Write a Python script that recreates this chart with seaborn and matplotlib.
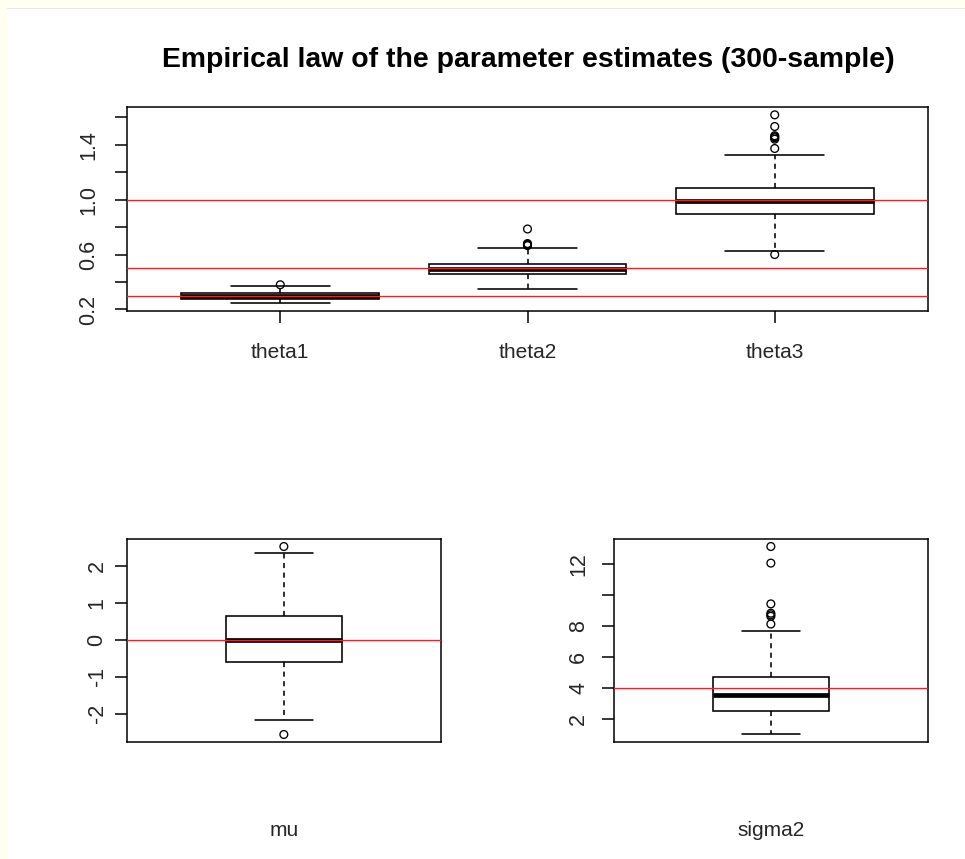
import numpy as np
import pandas as pd
import matplotlib
matplotlib.use("Agg")
import matplotlib.pyplot as plt
import seaborn as sns
from matplotlib.patches import Rectangle
from matplotlib.lines import Line2D

# Five-number summaries (lower whisker, Q1, median, Q3, upper whisker)
theta_names = ["theta1", "theta2", "theta3"]
theta_true = [0.3, 0.5, 1.0]
theta_whisker_low = [0.244, 0.348, 0.627]
theta_q1 = [0.280, 0.459, 0.898]
theta_median = [0.300, 0.497, 0.987]
theta_q3 = [0.321, 0.534, 1.082]
theta_whisker_high = [0.372, 0.645, 1.326]
theta1_outliers = [0.380]
theta2_outliers = [0.665, 0.670, 0.675, 0.680, 0.786]
theta3_outliers = [0.600, 1.372, 1.440, 1.450, 1.458, 1.465, 1.532, 1.617]

mu_name = "mu"
mu_true = 0.0
mu_summary = [-2.18, -0.59, 0.0, 0.654, 2.35]
mu_outliers = [-2.56, 2.53]

sigma2_name = "sigma2"
sigma2_true = 4.0
sigma2_summary = [0.98, 2.52, 3.53, 4.69, 7.67]
sigma2_outliers = [8.10, 8.60, 8.70, 8.80, 9.40, 12.03, 13.10]

theta_yticks = [0.2, 0.4, 0.6, 0.8, 1.0, 1.2, 1.4, 1.6]
theta_yticklabels = ["0.2", "", "0.6", "", "1.0", "", "1.4", ""]
mu_yticks = [-2, -1, 0, 1, 2]
mu_yticklabels = ["-2", "-1", "0", "1", "2"]
sigma2_yticks = [2, 4, 6, 8, 10, 12]
sigma2_yticklabels = ["2", "4", "6", "8", "", "12"]

title = "Empirical law of the parameter estimates (300-sample)"

sns.set_theme(style="ticks")
plt.rcParams["font.family"] = ["Liberation Sans", "DejaVu Sans"]

TEXT = "#262626"
RED = "#e4262b"


def long_frame(names, columns):
    rows = []
    for name, vals in zip(names, columns):
        rows += [(name, v) for v in vals]
    return pd.DataFrame(rows, columns=["param", "value"])


def draw_panel(ax, names, summaries, outliers, truths, yticks, yticklabels,
               xlim, ypad, xpad, xticklen):
    box_df = long_frame(names, summaries)
    out_df = long_frame(names, outliers)

    sns.boxplot(data=box_df, x="param", y="value", order=names, ax=ax,
                width=0.8, whis=np.inf, showfliers=False, color="white",
                linecolor="black", linewidth=1.15, saturation=1,
                medianprops=dict(linewidth=3.4, solid_capstyle="butt"),
                whiskerprops=dict(linestyle=(0, (3.2, 2.8))))

    n_before = len(ax.collections)
    sns.stripplot(data=out_df, x="param", y="value", order=names, ax=ax,
                  jitter=False, size=5.6, color="black", zorder=4)
    for coll in ax.collections[n_before:]:
        coll.set_facecolor("none")
        coll.set_edgecolor("black")
        coll.set_linewidth(0.95)

    for t in truths:
        ax.axhline(t, color=RED, lw=0.95, zorder=6)

    # R-style range: data extent widened by 4% on each side
    allv = np.concatenate([box_df["value"].values, out_df["value"].values])
    lo, hi = allv.min(), allv.max()
    pad = 0.04 * (hi - lo)
    ax.set_ylim(lo - pad, hi + pad)
    ax.set_xlim(*xlim)

    ax.set_yticks(yticks)
    ax.set_yticklabels(yticklabels, rotation=90, va="center")
    ax.set_xlabel("")
    ax.set_ylabel("")
    for sp in ax.spines.values():
        sp.set_visible(True)
        sp.set_linewidth(1.1)
        sp.set_color("black")
    ax.tick_params(axis="y", length=8.8, width=1.1, color="black",
                   labelsize=15.5, labelcolor=TEXT, pad=ypad)
    ax.tick_params(axis="x", length=xticklen, width=1.1, color="black",
                   labelsize=15, labelcolor=TEXT, pad=xpad)


fig = plt.figure(figsize=(9.65, 8.59), dpi=100)
fig.patch.set_facecolor("white")

W, H = 965.0, 859.0
ax_top = fig.add_axes([127 / W, 1 - 311 / H, 801 / W, 203.7 / H])
ax_mu = fig.add_axes([126.7 / W, 1 - 742 / H, 314.3 / W, 203 / H])
ax_s2 = fig.add_axes([614 / W, 1 - 742 / H, 313.7 / W, 203 / H])

theta_summaries = [
    [theta_whisker_low[i], theta_q1[i], theta_median[i], theta_q3[i],
     theta_whisker_high[i]]
    for i in range(len(theta_names))
]
draw_panel(ax_top, theta_names, theta_summaries,
           [theta1_outliers, theta2_outliers, theta3_outliers], theta_true,
           theta_yticks, theta_yticklabels, (-0.62, 2.62),
           ypad=11, xpad=14.5, xticklen=8.8)
draw_panel(ax_mu, [mu_name], [mu_summary], [mu_outliers], [mu_true],
           mu_yticks, mu_yticklabels, (-1.08, 1.08),
           ypad=5, xpad=57, xticklen=0)
draw_panel(ax_s2, [sigma2_name], [sigma2_summary], [sigma2_outliers],
           [sigma2_true], sigma2_yticks, sigma2_yticklabels, (-1.08, 1.08),
           ypad=9, xpad=57, xticklen=0)

fig.text(528 / W, 1 - 60 / H, title, ha="center", va="center",
         fontsize=20.4, fontweight="bold", color="black")

# faint page border along the top and left edges
fig.patches.append(Rectangle((0, 1 - 7 / H), 1, 7 / H, transform=fig.transFigure,
                             facecolor="#fffff2", edgecolor="none", zorder=-5))
fig.patches.append(Rectangle((0, 0), 7 / W, 1, transform=fig.transFigure,
                             facecolor="#fffff2", edgecolor="none", zorder=-5))
fig.lines.append(Line2D([7 / W, 1], [1 - 7.5 / H, 1 - 7.5 / H],
                        transform=fig.transFigure, color="#e9e9e2", lw=0.8))

fig.savefig("out.png", dpi=100, facecolor="white")
